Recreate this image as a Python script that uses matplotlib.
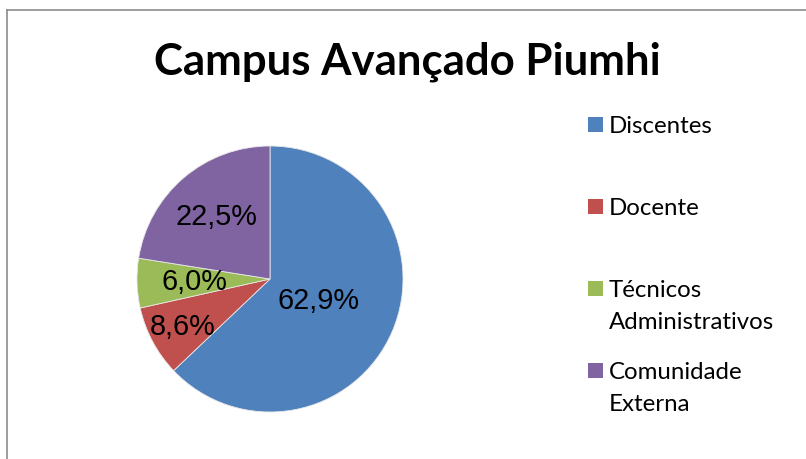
import numpy as np
import matplotlib.pyplot as plt
from matplotlib.lines import Line2D
from matplotlib.patches import Rectangle

# dados
categorias = ['Discentes', 'Docente', 'Técnicos\nAdministrativos', 'Comunidade\nExterna']
valores = [62.9, 8.6, 6.0, 22.5]
cores = ['#4F81BD', '#C0504D', '#9BBB59', '#8064A2']
dist_rotulo = [0.40, 0.745, 0.565, 0.62]
titulo = 'Campus Avançado Piumhi'

W, H = 806, 460
fig = plt.figure(figsize=(W / 100, H / 100), dpi=100)

# moldura (so esquerda e topo aparecem no recorte)
fig.add_artist(Line2D([7.5 / W, 7.5 / W], [0, 1 - 11 / H], color='#8c8c8c', lw=1.2))
fig.add_artist(Line2D([7.5 / W, 1], [1 - 11 / H, 1 - 11 / H], color='#8c8c8c', lw=1.2))

# pizza
cx, cy, r = 270, 280, 133
ax = fig.add_axes([(cx - r) / W, (H - cy - r) / H, 2 * r / W, 2 * r / H])
wedges, _ = ax.pie(valores, colors=cores, startangle=90, counterclock=False,
                   wedgeprops=dict(edgecolor='#e8e8e8', linewidth=0.6))
ax.set_xlim(-1, 1)
ax.set_ylim(-1, 1)
ax.set_aspect('equal')
ax.axis('off')

for w, v, d in zip(wedges, valores, dist_rotulo):
    ang = np.deg2rad((w.theta1 + w.theta2) / 2)
    ax.text(d * np.cos(ang), d * np.sin(ang), f'{v:.1f}%'.replace('.', ','),
            ha='center', va='center', fontsize=20.8, family='Liberation Sans',
            color='black')

# titulo
fig.text(407 / W, 1 - 75 / H, titulo, ha='center', va='baseline',
         fontsize=31.5, fontweight='bold', family='Lato')

# legenda
for i, (cat, cor) in enumerate(zip(categorias, cores)):
    yc = 125 + 82 * i
    fig.add_artist(Rectangle((588 / W, 1 - (yc + 7.5) / H), 15 / W, 15 / H,
                             transform=fig.transFigure, color=cor, lw=0))
    for j, linha in enumerate(cat.split('\n')):
        fig.text(609 / W, 1 - (yc + 8 + 32 * j) / H, linha, ha='left',
                 va='baseline', fontsize=17.3, family='Lato')

fig.savefig('out.png', dpi=100)
